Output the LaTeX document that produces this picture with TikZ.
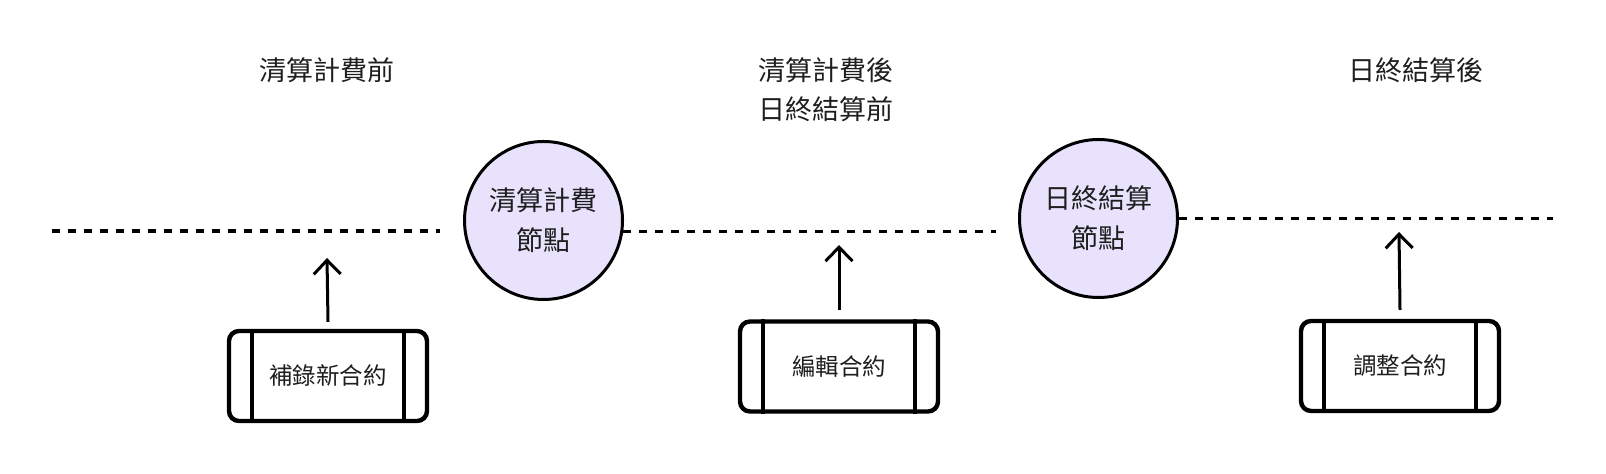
\documentclass[tikz,border=0pt]{standalone}
\usepackage{fontspec}
\setmainfont{Noto Sans CJK TC}
\usetikzlibrary{arrows.meta}
\definecolor{nodefill}{RGB}{232,226,252}
\definecolor{txt}{RGB}{30,30,30}
\begin{document}
\begin{tikzpicture}[x=0.5pt,y=-0.5pt,
  phase/.style={font=\fontsize{13.5pt}{19.5pt}\selectfont, text=txt, align=center, inner sep=0pt},
  gate/.style={circle, draw=black, fill=nodefill, line width=1.5pt, minimum size=79pt, inner sep=0pt,
    font=\fontsize{13.5pt}{20pt}\selectfont, text=txt, align=center},
  procbox/.style={draw=black, line width=2.2pt, rounded corners=5pt, minimum width=99pt, minimum height=45pt,
    inner sep=0pt, font=\fontsize{11.75pt}{14pt}\selectfont, text=txt},
  timeline/.style={line width=1.8pt, dash pattern=on 4pt off 4pt},
  push/.style={line width=1.5pt, -{Straight Barb[length=7pt,width=13.5pt,line width=1.5pt]}},
  sidebar/.style={line width=2pt}
]
\useasboundingbox (0,0) rectangle (1606,474);

% phase labels
\node[phase] (t1) at (327,70) {清算計費前};
\node[phase] (t2) at (826,90) {清算計費後\\日終結算前};
\node[phase] (t3) at (1416,70) {日終結算後};

% gate nodes
\node[gate] (c1) at (543.5,220.5) {清算計費\\節點};
\node[gate] (c2) at (1098.5,218.5) {日終結算\\節點};

% timeline ends
\coordinate (l1s) at (52,231);
\coordinate (l1e) at (440,231);
\coordinate (l2e) at (996,231);
\coordinate (l3e) at (1553,219);

\draw[timeline] (l1s) -- (l1e);
\draw[timeline] (c1.-8) -- (c1.-8 -| l2e);
\draw[timeline] (c2.east) -- (c2.east -| l3e);

% process boxes
\node[procbox] (b1) at (328,376) {補錄新合約};
\node[procbox] (b2) at (839,366.5) {編輯合約};
\node[procbox] (b3) at (1400,366) {調整合約};

\foreach \b in {b1,b2,b3}{
  \draw[sidebar] ([xshift=12.5pt]\b.north west) -- ([xshift=12.5pt]\b.south west);
  \draw[sidebar] ([xshift=-12.5pt]\b.north east) -- ([xshift=-12.5pt]\b.south east);
}

% arrow tips
\coordinate (a1) at (327,258);
\coordinate (a2) at (839,245);
\coordinate (a3) at (1399,232);

\draw[push] ([yshift=3.5pt]b1.north) -- (a1);
\draw[push] ([yshift=4.5pt]b2.north) -- (a2);
\draw[push] ([yshift=4.5pt]b3.north) -- (a3);
\end{tikzpicture}
\end{document}
